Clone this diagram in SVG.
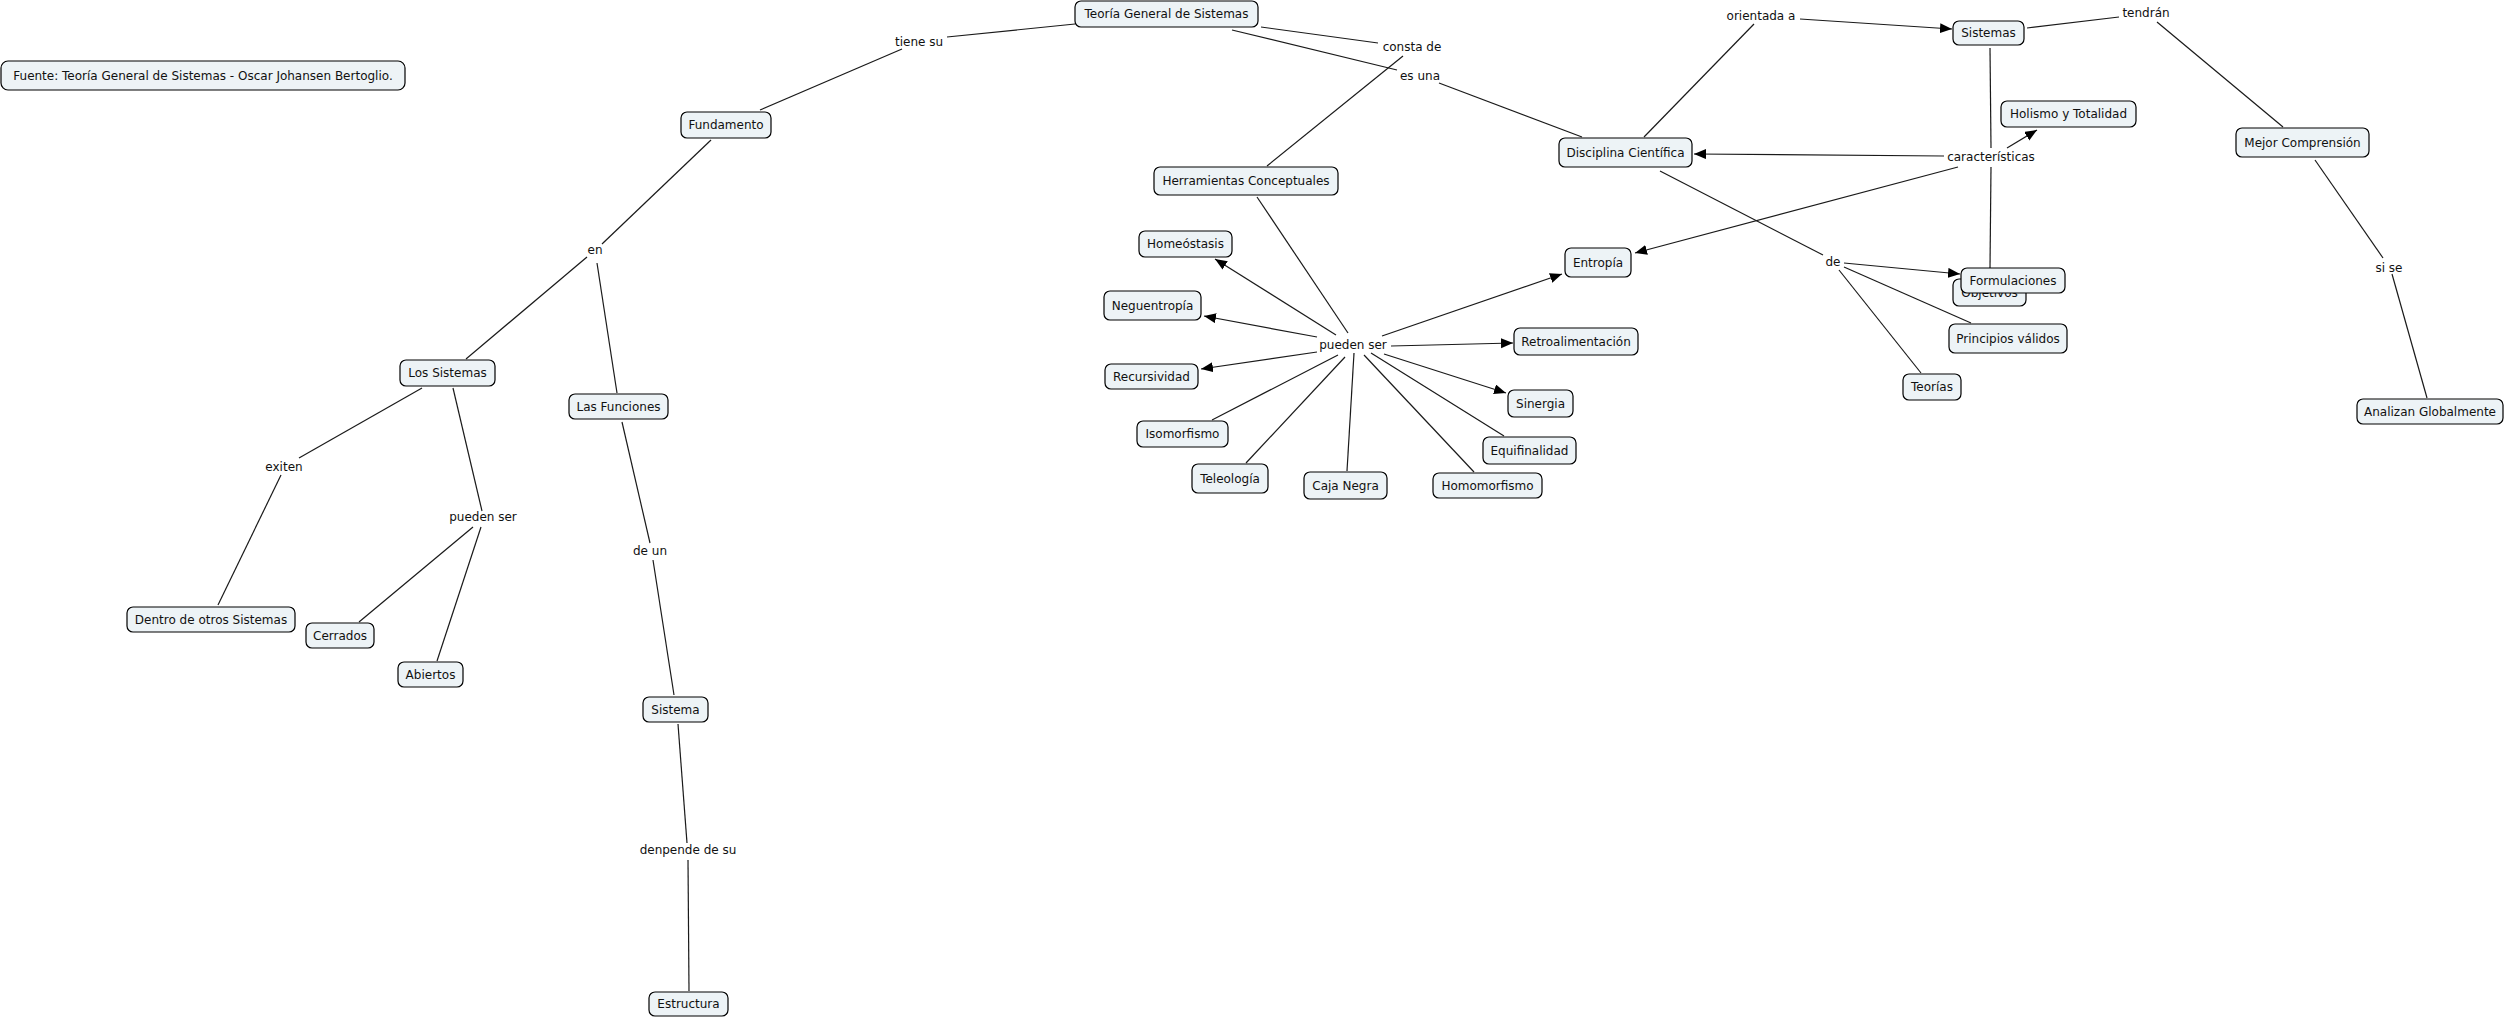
<svg xmlns="http://www.w3.org/2000/svg" width="2507" height="1018" viewBox="0 0 2507 1018">
<style>
.n rect{fill:#edf3f6;stroke:#000;stroke-width:1.2}
text{font-family:"DejaVu Sans",Verdana,sans-serif;font-size:12px;fill:#111;text-anchor:middle}
.c line{stroke:#1a1a1a;stroke-width:1.2;fill:none}
.c line.a{marker-end:url(#ah)}
</style>
<defs>
<marker id="ah" markerUnits="userSpaceOnUse" markerWidth="13" markerHeight="11" refX="12" refY="5" orient="auto">
<path d="M0,0 L12,5 L0,10 z" fill="#000"/>
</marker>
</defs>
<rect width="2507" height="1018" fill="#fff"/>
<g class="c" id="connectors">
<line x1="1075" y1="24" x2="947" y2="37"/>
<line x1="902" y1="49" x2="760" y2="110"/>
<line x1="711" y1="140" x2="602" y2="244"/>
<line x1="587" y1="257" x2="466" y2="359"/>
<line x1="597" y1="263" x2="617" y2="393"/>
<line x1="422" y1="388" x2="299" y2="458"/>
<line x1="281" y1="475" x2="218" y2="605"/>
<line x1="453" y1="388" x2="482" y2="511"/>
<line x1="473" y1="527" x2="359" y2="622"/>
<line x1="481" y1="527" x2="437" y2="661"/>
<line x1="622" y1="422" x2="650" y2="543"/>
<line x1="653" y1="560" x2="674" y2="695"/>
<line x1="678" y1="724" x2="687" y2="843"/>
<line x1="688" y1="860" x2="689" y2="991"/>
<line x1="1261" y1="27" x2="1378" y2="43"/>
<line x1="1403" y1="56" x2="1267" y2="166"/>
<line x1="1232" y1="30" x2="1397" y2="70"/>
<line x1="1439" y1="83" x2="1582" y2="137"/>
<line x1="1257" y1="197" x2="1348" y2="333"/>
<line class="a" x1="1336" y1="335" x2="1215" y2="259"/>
<line class="a" x1="1317" y1="337" x2="1204" y2="316"/>
<line class="a" x1="1317" y1="352" x2="1201" y2="369"/>
<line x1="1338" y1="355" x2="1212" y2="420"/>
<line x1="1345" y1="357" x2="1246" y2="463"/>
<line x1="1354" y1="353" x2="1347" y2="471"/>
<line x1="1364" y1="355" x2="1474" y2="472"/>
<line x1="1371" y1="353" x2="1504" y2="436"/>
<line class="a" x1="1384" y1="354" x2="1506" y2="393"/>
<line class="a" x1="1391" y1="346" x2="1513" y2="343"/>
<line class="a" x1="1382" y1="336" x2="1562" y2="274"/>
<line x1="1644" y1="137" x2="1754" y2="24"/>
<line class="a" x1="1800" y1="19" x2="1952" y2="29"/>
<line x1="1990" y1="48" x2="1991" y2="148"/>
<line x1="1991" y1="167" x2="1990" y2="268"/>
<line class="a" x1="2007" y1="148" x2="2037" y2="130"/>
<line class="a" x1="1944" y1="156" x2="1694" y2="154"/>
<line class="a" x1="1958" y1="167" x2="1635" y2="253"/>
<line x1="1660" y1="171" x2="1823" y2="255"/>
<line class="a" x1="1844" y1="263" x2="1960" y2="274"/>
<line x1="1844" y1="267" x2="1971" y2="323"/>
<line x1="1839" y1="270" x2="1921" y2="373"/>
<line x1="2027" y1="28" x2="2119" y2="17"/>
<line x1="2157" y1="22" x2="2283" y2="127"/>
<line x1="2315" y1="160" x2="2383" y2="258"/>
<line x1="2392" y1="274" x2="2427" y2="398"/>
</g>
<g id="labels">
<text x="919" y="46">tiene su</text>
<text x="595" y="254">en</text>
<text x="284" y="471">exiten</text>
<text x="483" y="521">pueden ser</text>
<text x="650" y="555">de un</text>
<text x="688" y="854">denpende de su</text>
<text x="1412" y="51">consta de</text>
<text x="1420" y="80">es una</text>
<text x="1353" y="349">pueden ser</text>
<text x="1761" y="20">orientada a</text>
<text x="1991" y="161">características</text>
<text x="1833" y="266">de</text>
<text x="2146" y="17">tendrán</text>
<text x="2389" y="272">si se</text>
</g>
<g class="n" id="n-fuente"><rect x="1" y="61" width="404" height="29" rx="7"/><text x="203" y="80">Fuente: Teoría General de Sistemas - Oscar Johansen Bertoglio.</text></g>
<g class="n" id="n-fundamento"><rect x="681" y="112" width="90" height="26" rx="6"/><text x="726" y="129">Fundamento</text></g>
<g class="n" id="n-lossistemas"><rect x="400" y="360" width="95" height="26" rx="6"/><text x="447.5" y="377">Los Sistemas</text></g>
<g class="n" id="n-lasfunciones"><rect x="569" y="394" width="99" height="25" rx="6"/><text x="618.5" y="411">Las Funciones</text></g>
<g class="n" id="n-dentro"><rect x="127" y="607" width="168" height="25" rx="6"/><text x="211" y="624">Dentro de otros Sistemas</text></g>
<g class="n" id="n-cerrados"><rect x="306" y="623" width="68" height="25" rx="6"/><text x="340" y="640">Cerrados</text></g>
<g class="n" id="n-abiertos"><rect x="398" y="662" width="65" height="25" rx="6"/><text x="430.5" y="679">Abiertos</text></g>
<g class="n" id="n-sistema"><rect x="643" y="697" width="65" height="25" rx="6"/><text x="675.5" y="714">Sistema</text></g>
<g class="n" id="n-estructura"><rect x="649" y="992" width="79" height="24" rx="6"/><text x="688.5" y="1008">Estructura</text></g>
<g class="n" id="n-teoria"><rect x="1075" y="1" width="183" height="26" rx="6"/><text x="1166.5" y="18">Teoría General de Sistemas</text></g>
<g class="n" id="n-herramientas"><rect x="1154" y="167" width="184" height="28" rx="6"/><text x="1246" y="185">Herramientas Conceptuales</text></g>
<g class="n" id="n-disciplina"><rect x="1559" y="138" width="133" height="29" rx="6"/><text x="1625.5" y="157">Disciplina Científica</text></g>
<g class="n" id="n-homeostasis"><rect x="1139" y="231" width="93" height="26" rx="6"/><text x="1185.5" y="248">Homeóstasis</text></g>
<g class="n" id="n-neguentropia"><rect x="1104" y="291" width="97" height="29" rx="6"/><text x="1152.5" y="310">Neguentropía</text></g>
<g class="n" id="n-recursividad"><rect x="1105" y="364" width="93" height="25" rx="6"/><text x="1151.5" y="381">Recursividad</text></g>
<g class="n" id="n-isomorfismo"><rect x="1137" y="421" width="91" height="26" rx="6"/><text x="1182.5" y="438">Isomorfismo</text></g>
<g class="n" id="n-teleologia"><rect x="1192" y="464" width="76" height="29" rx="6"/><text x="1230" y="483">Teleología</text></g>
<g class="n" id="n-cajanegra"><rect x="1304" y="472" width="83" height="27" rx="6"/><text x="1345.5" y="490">Caja Negra</text></g>
<g class="n" id="n-homomorfismo"><rect x="1433" y="473" width="109" height="25" rx="6"/><text x="1487.5" y="490">Homomorfismo</text></g>
<g class="n" id="n-equifinalidad"><rect x="1483" y="437" width="93" height="27" rx="6"/><text x="1529.5" y="455">Equifinalidad</text></g>
<g class="n" id="n-sinergia"><rect x="1508" y="390" width="65" height="27" rx="6"/><text x="1540.5" y="408">Sinergia</text></g>
<g class="n" id="n-retro"><rect x="1514" y="328" width="124" height="27" rx="6"/><text x="1576" y="346">Retroalimentación</text></g>
<g class="n" id="n-entropia"><rect x="1565" y="248" width="66" height="29" rx="6"/><text x="1598" y="267">Entropía</text></g>
<g class="n" id="n-sistemas"><rect x="1953" y="21" width="71" height="24" rx="6"/><text x="1988.5" y="37">Sistemas</text></g>
<g class="n" id="n-holismo"><rect x="2001" y="101" width="135" height="26" rx="6"/><text x="2068.5" y="118">Holismo y Totalidad</text></g>
<g class="n" id="n-mejor"><rect x="2236" y="128" width="133" height="29" rx="6"/><text x="2302.5" y="147">Mejor Comprensión</text></g>
<g class="n" id="n-objetivos"><rect x="1953" y="279" width="73" height="27" rx="6"/><text x="1989.5" y="297">Objetivos</text></g>
<g class="n" id="n-formulaciones"><rect x="1961" y="268" width="104" height="25" rx="6"/><text x="2013" y="285">Formulaciones</text></g>
<g class="n" id="n-principios"><rect x="1949" y="324" width="118" height="29" rx="6"/><text x="2008" y="343">Principios válidos</text></g>
<g class="n" id="n-teorias"><rect x="1903" y="374" width="58" height="26" rx="6"/><text x="1932" y="391">Teorías</text></g>
<g class="n" id="n-analizan"><rect x="2357" y="399" width="146" height="25" rx="6"/><text x="2430" y="416">Analizan Globalmente</text></g>
</svg>
